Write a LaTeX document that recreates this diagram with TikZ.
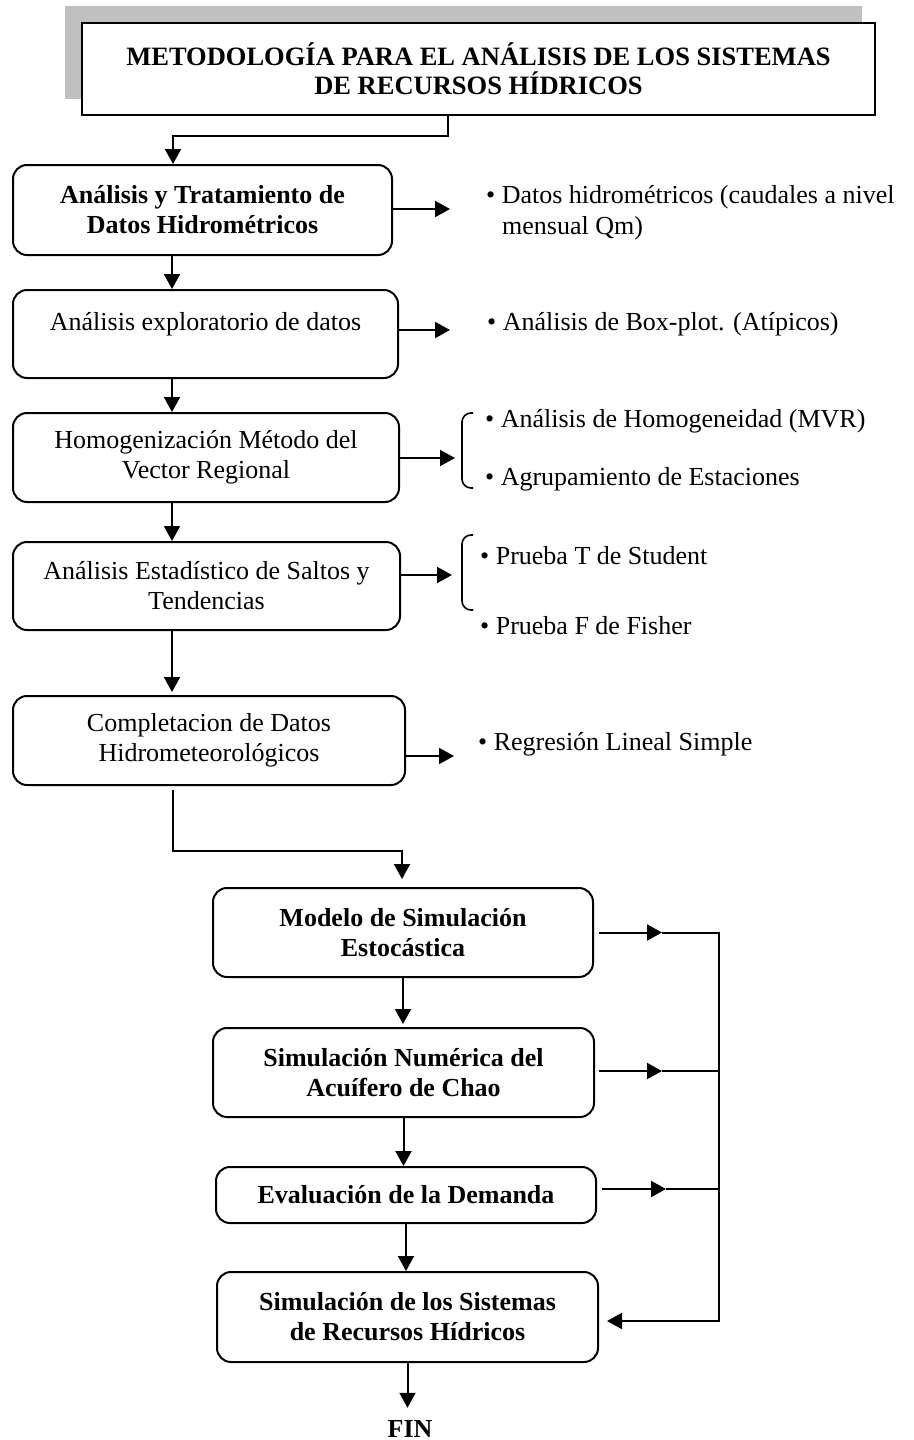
\documentclass[tikz,border=0pt]{standalone}
\usepackage{fontspec}
\setmainfont{Liberation Serif}
\usetikzlibrary{arrows.meta}
\definecolor{shadowgray}{RGB}{192,192,192}
\begin{document}
\begin{tikzpicture}[x=1pt,y=-1pt,
  ln/.style={line width=2pt},
  box/.style={draw, line width=2pt, rounded corners=14pt, align=center, inner sep=0pt, font=\fontsize{26}{30}\selectfont},
  bbox/.style={box, font=\fontsize{26}{30}\selectfont\bfseries},
  arr/.style={line width=2pt, -{Triangle[length=15pt,width=16pt]}},
  txt/.style={anchor=base west, inner sep=0pt, font=\fontsize{26}{30}\selectfont},
  brc/.style={line width=1.6pt, rounded corners=9pt},
]
\useasboundingbox (0,0) rectangle (913,1440);

% title
\fill[shadowgray] (65,6) rectangle (862,99);
\node[draw, fill=white, line width=2pt, minimum width=793pt, minimum height=92pt, inner sep=0pt, align=center,
      font=\fontsize{26.5}{29}\selectfont\bfseries] (title) at (478.5,69)
      {METODOLOGÍA PARA EL ANÁLISIS DE LOS SISTEMAS\\DE RECURSOS HÍDRICOS};

% left column
\node[bbox, minimum width=379pt, minimum height=90pt] (b1) at (202.5,210) {Análisis y Tratamiento de\\Datos Hidrométricos};
\node[box, minimum width=385pt, minimum height=88pt] (b2) at (205.5,334) {};
\node[anchor=base, inner sep=0pt, font=\fontsize{26}{30}\selectfont] (b2t) at (205.5,330) {Análisis exploratorio de datos};
\node[box, minimum width=386pt, minimum height=89pt] (b3) at (206,457.5) {Homogenización Método del\\Vector Regional};
\node[box, minimum width=387pt, minimum height=88pt] (b4) at (206.5,586) {Análisis Estadístico de Saltos y\\Tendencias};
\node[box, minimum width=392pt, minimum height=89pt] (b5) at (209,740.5) {Completacion de Datos\\Hidrometeorológicos};

% lower column
\node[bbox, minimum width=380pt, minimum height=89pt] (b6) at (403,932.5) {Modelo de Simulación\\Estocástica};
\node[bbox, minimum width=381pt, minimum height=89pt] (b7) at (403.5,1072.5) {Simulación Numérica del\\Acuífero de Chao};
\node[bbox, minimum width=380pt, minimum height=56pt] (b8) at (406,1195) {Evaluación de la Demanda};
\node[bbox, minimum width=381pt, minimum height=90pt] (b9) at (407.5,1317) {Simulación de los Sistemas\\de Recursos Hídricos};
\node[anchor=base, inner sep=0pt, font=\fontsize{26}{30}\selectfont\bfseries] (fin) at (410,1437) {FIN};

% bullet texts
\node[txt] (l1) at (486,203) {•\ Datos hidrométricos (caudales a nivel};
\node[txt] (l1b) at (502,234) {mensual Qm)};
\node[txt] (l2) at (487,330) {•\ Análisis de Box-plot. (Atípicos)};
\node[txt] (l3a) at (485,427) {•\ Análisis de Homogeneidad (MVR)};
\node[txt] (l3b) at (485,485) {•\ Agrupamiento de Estaciones};
\node[txt] (l4a) at (480,564) {•\ Prueba T de Student};
\node[txt] (l4b) at (480,634) {•\ Prueba F de Fisher};
\node[txt] (l5) at (478,750) {•\ Regresión Lineal Simple};

% braces
\draw[brc] (473,413) -- (462,413) -- (462,488) -- (473,488);
\draw[brc] (473,535) -- (462,535) -- (462,610) -- (473,610);

% title connector
\coordinate (t1) at (448,136);
\coordinate (t2) at (173,136);
\draw[arr] (title.south -| t1) -- (t1) -- (t2) -- (t2 |- b1.north);

% left vertical arrows
\coordinate (ax) at (172,0);
\draw[arr] (b1.south -| ax) -- (b2.north -| ax);
\draw[arr] (b2.south -| ax) -- (b3.north -| ax);
\draw[arr] (b3.south -| ax) -- (b4.north -| ax);
\draw[arr, shorten >=3pt] (b4.south -| ax) -- (b5.north -| ax);

% right arrows of the left column
\coordinate (e1) at (450,209);
\coordinate (e2) at (450,330);
\coordinate (e3) at (455,458);
\coordinate (e4) at (452,575);
\coordinate (e5) at (454,756);
\draw[arr] (b1.east |- e1) -- (e1);
\draw[arr] (b2.east |- e2) -- (e2);
\draw[arr] (b3.east |- e3) -- (e3);
\draw[arr] (b4.east |- e4) -- (e4);
\draw[arr] (b5.east |- e5) -- (e5);

% connector from b5 to b6
\coordinate (c1) at (173,851);
\coordinate (c2) at (402,851);
\draw[arr, shorten <=4pt, shorten >=8pt] (b5.south -| c1) -- (c1) -- (c2) -- (c2 |- b6.north);

% lower vertical arrows
\draw[arr, shorten >=3pt] (b6.south) -- (b6.south |- b7.north);
\draw[arr] (b7.south) -- (b7.south |- b8.north);
\draw[arr] (b8.south) -- (b8.south |- b9.north);
\draw[arr, shorten >=12pt] (b9.south) -- (b9.south |- fin.north);

% feedback lines on the right
\coordinate (m6) at (662,932.5);
\coordinate (r6) at (719,932.5);
\coordinate (m7) at (662,1071);
\coordinate (r7) at (719,1071);
\coordinate (m8) at (666,1189);
\coordinate (r8) at (719,1189);
\coordinate (r9) at (719,1321);
\draw[arr, shorten <=5pt] (b6.east |- m6) -- (m6);
\draw[arr, shorten <=4pt] (b7.east |- m7) -- (m7);
\draw[arr, shorten <=5pt] (b8.east |- m8) -- (m8);
\draw[ln] (m7) -- (r7);
\draw[ln] (m8) -- (r8);
\draw[arr, shorten >=8pt] (m6) -- (r6) -- (r9) -- (b9.east |- r9);
\end{tikzpicture}
\end{document}
